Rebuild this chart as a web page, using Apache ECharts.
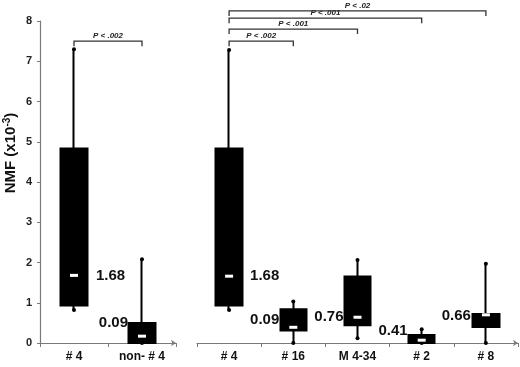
<!DOCTYPE html>
<html>
<head>
<meta charset="utf-8">
<script src="https://cdn.jsdelivr.net/npm/echarts@6/dist/echarts.min.js"></script>
<style>
  html, body { margin: 0; padding: 0; background: #fff; }
  #chart { width: 520px; height: 367px; }
</style>
</head>
<body>
<div id="chart"></div>
<script>
// left panel: #4 vs all others
var catsLeft = ['# 4', 'non- # 4'];
var lowLeft = [0.82, 0];
var q1Left = [0.93, 0];
var medLeft = [1.68, 0.17];
var q3Left = [4.83, 0.5];
var highLeft = [7.3, 2.08];
var textLeft = ['1.68', '0.09'];
var textAtLeft = [1.68, 0.5];

// right panel: single groups
var catsRight = ['# 4', '# 16', 'M 4-34', '# 2', '# 8'];
var lowRight = [0.82, 0, 0.12, 0, 0];
var q1Right = [0.93, 0.31, 0.44, 0, 0.40];
var medRight = [1.66, 0.39, 0.64, 0.07, 0.70];
var q3Right = [4.83, 0.84, 1.65, 0.2, 0.72];
var highRight = [7.28, 1.03, 2.06, 0.34, 1.97];
var textRight = ['1.68', '0.09', '0.76', '0.41', '0.66'];
var textAtRight = [1.68, 0.57, 0.65, 0.3, 0.67];

// significance brackets: from category, to category, height, text
var brFromLeft = [0], brToLeft = [1], brLevelLeft = [7.5], brTextLeft = ['P < .002'];
var brFromRight = [0, 0, 0, 0], brToRight = [1, 2, 3, 4];
var brLevelRight = [7.5, 7.8, 8.07, 8.25];
var brTextRight = ['P < .002', 'P < .001', 'P < .001', 'P < .02'];

var chart = echarts.init(document.getElementById('chart'));
var axisGray = '#7a7a7a';
var font = 'Liberation Sans, Arial, sans-serif';

function candles(lo, q1, q3, hi) {
  return q1.map(function (v, i) { return [v, q3[i], lo[i], hi[i]]; });
}
function ends(lo, hi) {
  var out = [];
  lo.forEach(function (v, i) { out.push([i, v]); out.push([i, hi[i]]); });
  return out;
}
function pts(vals) { return vals.map(function (v, i) { return [i, v]; }); }
function brackets(from, to, lvl, txt) {
  return from.map(function (f, i) { return [f, to[i], lvl[i], txt[i]]; });
}

function renderBracket(params, api) {
  var a = api.coord([api.value(0), api.value(2)]);
  var b = api.coord([api.value(1), api.value(2)]);
  return {
    type: 'group',
    children: [{
      type: 'polyline',
      shape: { points: [[a[0], a[1] + 5], [a[0], a[1]], [b[0], b[1]], [b[0], b[1] + 5]] },
      style: { stroke: '#333', lineWidth: 1.3, fill: null }
    }, {
      type: 'text',
      x: (a[0] + b[0]) / 2, y: a[1] - 1,
      style: {
        text: api.value(3), fill: '#222', font: 'italic bold 8px ' + font,
        align: 'center', verticalAlign: 'bottom'
      }
    }]
  };
}

function panelSeries(idx, lo, q1, med, q3, hi, texts, textAt, sides, dists, br) {
  return [{
    type: 'candlestick', xAxisIndex: idx, yAxisIndex: idx,
    barWidth: 27,
    itemStyle: { color: '#000', color0: '#000', borderColor: '#000', borderColor0: '#000', borderWidth: 2 },
    data: candles(lo, q1, q3, hi)
  }, {
    type: 'scatter', xAxisIndex: idx, yAxisIndex: idx,
    symbol: 'circle', symbolSize: 4, itemStyle: { color: '#000', opacity: 1 },
    data: ends(lo, hi), z: 3
  }, {
    type: 'scatter', xAxisIndex: idx, yAxisIndex: idx,
    symbol: 'rect', symbolSize: [8, 3], itemStyle: { color: '#fff', opacity: 1 },
    data: pts(med), z: 4
  }, {
    type: 'scatter', xAxisIndex: idx, yAxisIndex: idx,
    symbolSize: 0, itemStyle: { color: '#000', opacity: 1 },
    data: textAt.map(function (v, i) {
      return {
        value: [i, v],
        label: {
          show: true, formatter: texts[i], position: sides[i], distance: dists[i],
          fontSize: 15, fontWeight: 'bold', color: '#111', fontFamily: font
        }
      };
    }),
    z: 5
  }, {
    type: 'custom', xAxisIndex: idx, yAxisIndex: idx,
    renderItem: renderBracket, clip: false,
    encode: { x: [0, 1], y: 2 },
    data: br, z: 6
  }];
}

function xAxis(idx, cats) {
  return {
    type: 'category', gridIndex: idx, data: cats, boundaryGap: true,
    axisLine: { lineStyle: { color: axisGray, width: 1.2 }, symbol: ['none', 'arrow'], symbolSize: [5, 5] },
    axisTick: { show: true, length: 4, lineStyle: { color: axisGray } },
    axisLabel: { fontSize: 12, fontWeight: 'bold', color: '#111', fontFamily: font, margin: 8 }
  };
}

var option = {
  animation: false,
  backgroundColor: '#fff',
  grid: [
    { left: 40, top: 21, width: 136, height: 322 },
    { left: 197, top: 21, width: 321, height: 322 }
  ],
  xAxis: [xAxis(0, catsLeft), xAxis(1, catsRight)],
  yAxis: [{
    type: 'value', gridIndex: 0, min: 0, max: 8, interval: 1,
    splitLine: { show: false },
    axisLine: { show: true, lineStyle: { color: axisGray, width: 1.2 } },
    axisTick: { show: true, length: 3, lineStyle: { color: axisGray } },
    axisLabel: { fontSize: 11, fontWeight: 'bold', color: '#222', fontFamily: font, margin: 8 }
  }, {
    type: 'value', gridIndex: 1, min: 0, max: 8, interval: 1, show: false,
    splitLine: { show: false }
  }],
  graphic: [{
    type: 'text', x: 11, y: 153, rotation: Math.PI / 2,
    style: {
      text: '{a|NMF (x10}{s|-3}{a|)}',
      align: 'center', verticalAlign: 'middle',
      rich: {
        a: { fontSize: 15, fontWeight: 'bold', fill: '#111', fontFamily: font, lineHeight: 18 },
        s: { fontSize: 10, fontWeight: 'bold', fill: '#111', fontFamily: font, verticalAlign: 'top', lineHeight: 18 }
      }
    }
  }],
  series: []
    .concat(panelSeries(0, lowLeft, q1Left, medLeft, q3Left, highLeft, textLeft, textAtLeft,
      ['right', 'left'], [22, 14], brackets(brFromLeft, brToLeft, brLevelLeft, brTextLeft)))
    .concat(panelSeries(1, lowRight, q1Right, medRight, q3Right, highRight, textRight, textAtRight,
      ['right', 'left', 'left', 'left', 'left'], [21, 14, 14, 14, 15],
      brackets(brFromRight, brToRight, brLevelRight, brTextRight)))
};

chart.setOption(option);
</script>
</body>
</html>
